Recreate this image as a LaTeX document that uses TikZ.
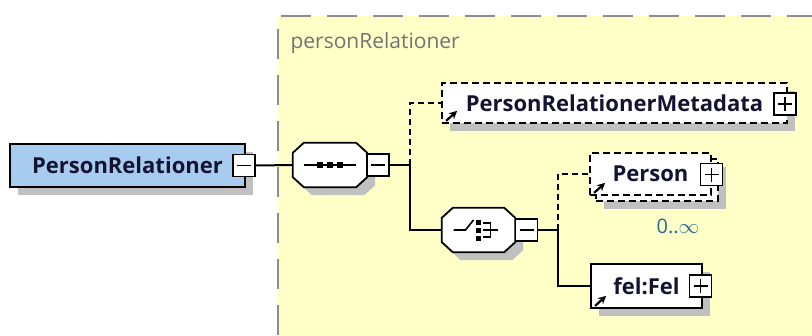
\documentclass[tikz,border=0pt]{standalone}
\usepackage{fontspec}
\setmainfont{Open Sans}
\usetikzlibrary{arrows.meta}
\definecolor{fond}{RGB}{255,255,200}
\definecolor{bleu}{RGB}{168,204,240}
\definecolor{grisombre}{RGB}{192,192,192}
\definecolor{bord}{RGB}{140,140,140}
\definecolor{card}{RGB}{40,105,150}
\definecolor{encre}{RGB}{20,20,50}
\tikzset{
  ombrage/.style={preaction={fill=grisombre,transform canvas={xshift=8pt,yshift=-8pt}}},
  elem/.style={draw,fill=white,line width=1.8pt,minimum height=42pt,inner sep=0pt,text=encre,font=\bfseries\fontsize{22}{24}\selectfont},
  elemopt/.style={elem,dash pattern=on 7pt off 4pt},
  pm/.style={draw,fill=white,line width=1.6pt,minimum size=22pt,inner sep=0pt},
  moins/.style={pm,path picture={\draw[line width=1.6pt] ([xshift=-7pt]path picture bounding box.center) -- ([xshift=7pt]path picture bounding box.center);}},
  plus/.style={pm,path picture={\draw[line width=1.6pt] ([xshift=-7pt]path picture bounding box.center) -- ([xshift=7pt]path picture bounding box.center) ([yshift=-7pt]path picture bounding box.center) -- ([yshift=7pt]path picture bounding box.center);}},
  octo/.style={minimum height=44pt,inner sep=0pt},
  octotrait/.style={draw,fill=white,line width=1.8pt,ombrage},
  lien/.style={line width=2pt},
  lienopt/.style={lien,dash pattern=on 6pt off 4pt},
  refl/.style={-{Stealth[length=8pt,width=8pt]},line width=2.2pt}
}
\begin{document}
\begin{tikzpicture}[x=1pt,y=-1pt]
\useasboundingbox (0,0) rectangle (812,335);
% Groupe
\fill[fond] (278,16) rectangle (812,335);
\draw[bord,line width=1.8pt,dash pattern=on 30pt off 16pt] (278,335) -- (278,16) -- (812,16);
\node[anchor=west,text=black!55,font=\fontsize{21}{24}\selectfont] (titre) at (287,43) {personRelationer};
% Racine
\node[elem,ombrage,fill=bleu,minimum width=235pt,minimum height=43pt] (racine) at (127.5,165.5) {PersonRelationer};
\node[moins] (racinepm) at (244,165.5) {};
% Sequence et choix
\node[octo,minimum width=74pt] (seq) at (330,165) {};
\node[octo,minimum width=73pt] (choix) at (478.5,230) {};
\foreach \o in {seq,choix}
  \draw[octotrait] ([xshift=11pt]\o.north west) -- ([xshift=-11pt]\o.north east) -- ([yshift=-10pt]\o.north east)
    -- ([yshift=10pt]\o.south east) -- ([xshift=-11pt]\o.south east) -- ([xshift=11pt]\o.south west)
    -- ([yshift=10pt]\o.south west) -- ([yshift=-10pt]\o.north west) -- cycle;
\draw[line width=1.6pt] ([xshift=-26pt]seq.center) -- ([xshift=26pt]seq.center);
\foreach \dx in {-10,0,10}
  \fill ([xshift=\dx pt]seq.center) +(-3,-3) rectangle +(3,3);
\node[moins] (seqpm) at (378,165) {};
\coordinate (j1) at (410,165);
\draw[line width=1.6pt] ([xshift=-25pt]choix.center) -- ++(12,0) -- ++(8,-10);
\foreach \dy in {-8,0,8}
  \fill ([yshift=\dy pt]choix.center) +(-2.5,-2.5) rectangle +(2.5,2.5);
\draw[line width=1.6pt] ([xshift=4pt,yshift=7pt]choix.center) -- ++(8,0) -- ++(0,14) -- ++(-8,0)
  ([xshift=4pt]choix.center) -- ++(15,0);
\node[moins] (choixpm) at (526.5,230) {};
\coordinate (j2) at (558,230);
% Metadata
\node[elemopt,ombrage,minimum width=345pt,minimum height=40pt] (meta) at (614.5,103) {PersonRelationerMetadata};
\node[plus] (metapm) at (785,104) {};
\draw[refl] ([xshift=5pt,yshift=3pt]meta.south west) -- ++(11,-10);
% Person
\node[elemopt,ombrage,minimum width=122pt] (personbis) at (657,180) {};
\node[elemopt,minimum width=121pt] (person) at (650.5,174) {Person};
\node[plus] (personpm) at (711.5,174.5) {};
\draw[refl] ([xshift=5pt,yshift=3pt]person.south west) -- ++(11,-10);
\node[text=card,font=\fontsize{20}{22}\selectfont] (card) at (678,226) {0..$\infty$};
% Fel
\node[elem,ombrage,minimum width=111pt,minimum height=44pt] (fel) at (646.5,286) {fel:Fel};
\node[plus] (felpm) at (700.5,286) {};
\draw[refl] ([xshift=5pt,yshift=3pt]fel.south west) -- ++(11,-10);
% Liens
\draw[lien] (racinepm.east) -- (seq.west);
\draw[lien] (seqpm.east) -- (j1);
\draw[lienopt] (j1) |- (meta.west);
\draw[lien] (j1) |- (choix.west);
\draw[lien] (choixpm.east) -- (j2);
\draw[lienopt] (j2) |- (person.west);
\draw[lien] (j2) |- (fel.west);
\end{tikzpicture}
\end{document}
